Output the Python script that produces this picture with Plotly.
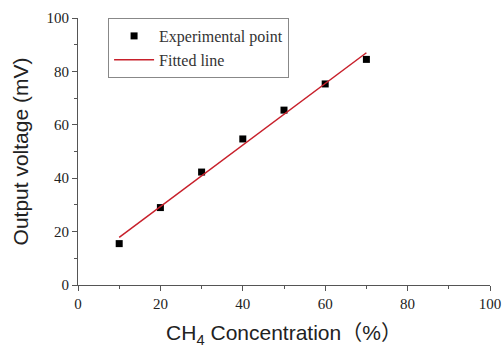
import numpy as np
import plotly.graph_objects as go

# Data
concentration = [10, 20, 30, 40, 50, 60, 70]
voltage = [15.5, 29.0, 42.3, 54.7, 65.5, 75.3, 84.5]

# Linear fit from data
slope, intercept = np.polyfit(concentration, voltage, 1)
fit_x = [concentration[0], concentration[-1]]
fit_y = [slope * v + intercept for v in fit_x]

fig = go.Figure()
fig.add_trace(go.Scatter(
    x=concentration, y=voltage, mode="markers", name="Experimental point",
    marker=dict(symbol="square", size=7, color="black"),
))
fig.add_trace(go.Scatter(
    x=fit_x, y=fit_y, mode="lines", name="Fitted line",
    line=dict(color="#c8202b", width=1.5),
))

tickfont = dict(family="Liberation Serif", size=15, color="#222")
titlefont = dict(family="Liberation Sans, Noto Sans CJK SC", size=21, color="#222")

axis_common = dict(
    range=[0, 100], dtick=20, tick0=0,
    showgrid=False, zeroline=False, automargin=False,
    showline=True, linecolor="#555", linewidth=1,
    ticks="outside", ticklen=5, tickwidth=1, tickcolor="#555",
    minor=dict(dtick=10, ticks="outside", ticklen=3, tickcolor="#555", showgrid=False),
    tickfont=tickfont,
)

fig.update_xaxes(**axis_common,
                 title=dict(text="CH<sub>4</sub> Concentration（%）", font=titlefont, standoff=14))
fig.update_yaxes(**axis_common,
                 title=dict(text="Output voltage (mV)", font=titlefont, standoff=12))

fig.update_layout(
    width=502, height=349,
    margin=dict(l=78, r=12, t=18, b=64),
    paper_bgcolor="white", plot_bgcolor="white",
    legend=dict(
        x=0.073, y=1.0, xanchor="left", yanchor="top",
        bordercolor="#888", borderwidth=1, bgcolor="white",
        font=dict(family="Liberation Serif", size=16, color="#333"),
        itemwidth=40, tracegroupgap=0,
    ),
)

fig.write_html("out.html")
